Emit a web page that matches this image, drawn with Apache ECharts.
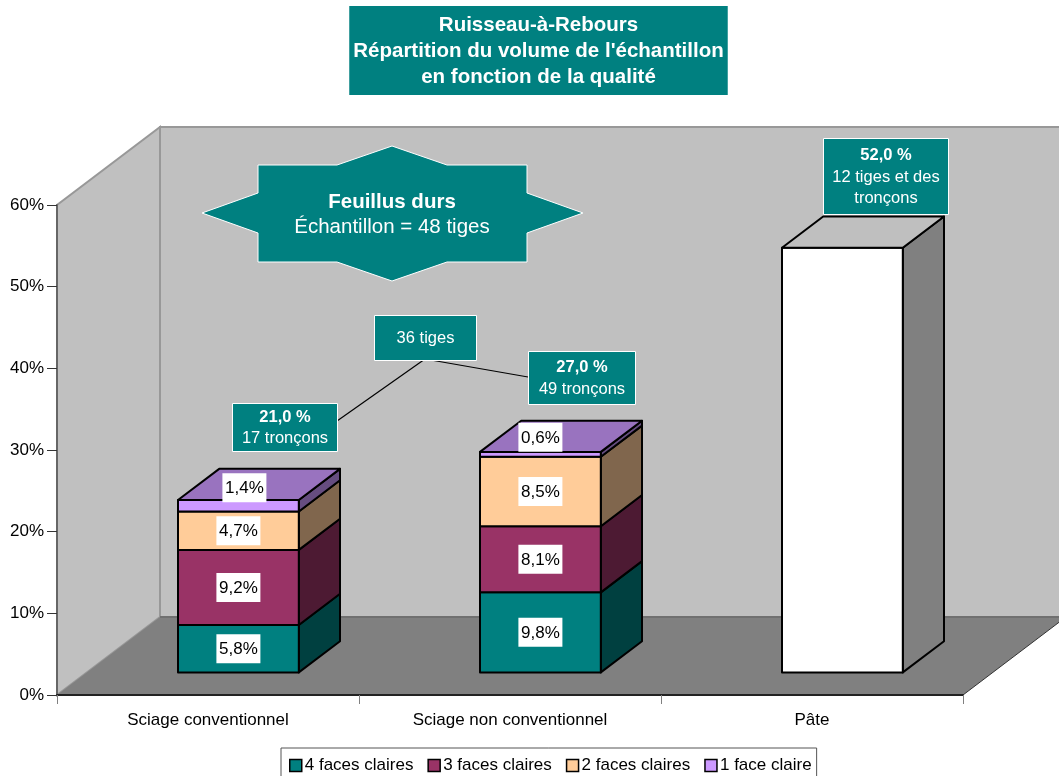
<!DOCTYPE html>
<html>
<head>
<meta charset="utf-8">
<style>html,body{margin:0;padding:0;background:#fff}#c{width:1059px;height:776px}</style>
<script src="https://cdn.jsdelivr.net/npm/echarts@6/dist/echarts.min.js"></script>
</head>
<body>
<div id="c"></div>
<script>
const categories = ['Sciage conventionnel', 'Sciage non conventionnel', 'Pâte'];
const yTicks = [0, 10, 20, 30, 40, 50, 60];
const fourFaces = [5.8, 9.8, null];
const threeFaces = [9.2, 8.1, null];
const twoFaces = [4.7, 8.5, null];
const oneFace = [1.4, 0.6, null];
const pulp = [null, null, 52.0];
const seriesNames = ['4 faces claires', '3 faces claires', '2 faces claires', '1 face claire', 'Pâte'];

const FONT = '"Liberation Sans", Arial, sans-serif';
const TEAL = '#008080';
const colors = ['#008080', '#993366', '#FFCC99', '#CC99FF', '#FFFFFF'];
const DX = 103, DY = 78;            // full depth of the 3D box
const labelNudge = { '3|0': [6, -18], '3|1': [0, -17] };

const stacks = [fourFaces, threeFaces, twoFaces, oneFace, pulp];
function baseOf(s, c) {
  let b = 0;
  for (let i = 0; i < s; i++) b += stacks[i][c] || 0;
  return b;
}
function shade(hex, k) {
  const n = parseInt(hex.slice(1), 16);
  const f = v => Math.round(v * k);
  return 'rgb(' + f(n >> 16 & 255) + ',' + f(n >> 8 & 255) + ',' + f(n & 255) + ')';
}
const fmt = v => v.toFixed(1).replace('.', ',') + '%';

function renderWalls(params, api) {
  const g = params.coordSys;
  const L = g.x, R = g.x + g.width, T = g.y, B = g.y + g.height;
  const wallLine = { stroke: '#989898', lineWidth: 2, lineJoin: 'miter' };
  return { type: 'group', children: [
    { type: 'polygon', shape: { points: [[L, B], [L + DX, B - DY], [L + DX, T - DY], [L, T]] },
      style: Object.assign({ fill: '#C0C0C0' }, wallLine) },
    { type: 'polygon', shape: { points: [[L + DX, B - DY], [R + DX, B - DY], [R + DX, T - DY], [L + DX, T - DY]] },
      style: Object.assign({ fill: '#C0C0C0' }, wallLine) },
    { type: 'polygon', shape: { points: [[L, B], [L + DX, B - DY], [R + DX, B - DY], [R, B]] },
      style: { fill: '#808080', stroke: 'none' } },
    { type: 'line', shape: { x1: L + DX, y1: B - DY, x2: R + DX, y2: B - DY }, style: { stroke: '#707070', lineWidth: 2 } },
    { type: 'line', shape: { x1: R, y1: B, x2: R + DX, y2: B - DY }, style: { stroke: '#333', lineWidth: 1 } }
  ]};
}

function renderSegment(s) {
  return function (params, api) {
    const c = api.value(0), v = api.value(1), base = api.value(2);
    const col = colors[s];
    const catW = api.size([1, 0])[0];
    const w = catW * 0.4;
    const p0 = api.coord([c, base]);
    const p1 = api.coord([c, base + v]);
    const x0 = p0[0] - w / 2 + DX * 0.3 - 0.5, x1 = x0 + w;
    const yb = p0[1] - DY * 0.29, yt = p1[1] - DY * 0.29;
    const dx = DX * 0.4, dy = DY * 0.4;
    const edge = { stroke: '#000', lineWidth: 2, lineJoin: 'round' };
    const kids = [
      { type: 'polygon', shape: { points: [[x1, yb], [x1 + dx, yb - dy], [x1 + dx, yt - dy], [x1, yt]] },
        style: Object.assign({ fill: shade(col, 0.5) }, edge) },
      { type: 'rect', shape: { x: x0, y: yt, width: w, height: yb - yt },
        style: Object.assign({ fill: col }, edge) }
    ];
    const isTop = stacks.slice(s + 1).every(a => a[c] == null);
    if (isTop) {
      kids.push({ type: 'polygon', shape: { points: [[x0, yt], [x0 + dx, yt - dy], [x1 + dx, yt - dy], [x1, yt]] },
        style: Object.assign({ fill: shade(col, 0.75) }, edge) });
    }
    if (s < 4) {
      const n = labelNudge[s + '|' + c] || [0, 0];
      const cx = (x0 + x1) / 2 + n[0], cy = (yb + yt) / 2 + n[1];
      kids.push({ type: 'rect', shape: { x: cx - 22, y: cy - 14.5, width: 44, height: 29 }, style: { fill: '#fff' } });
      kids.push({ type: 'text', style: { text: fmt(v), x: cx, y: cy + 1, align: 'center', verticalAlign: 'middle',
        fill: '#000', font: '17px ' + FONT } });
    }
    return { type: 'group', children: kids };
  };
}

const barSeries = stacks.map((arr, s) => ({
  name: seriesNames[s],
  type: 'custom',
  coordinateSystem: 'cartesian2d',
  z: 2,
  clip: false,
  itemStyle: { color: colors[s] },
  encode: { x: 0, y: 1 },
  renderItem: renderSegment(s),
  data: arr.map((v, c) => v == null ? null : [c, v, baseOf(s, c)]).filter(d => d)
}));

function box(x, y, w, h, rich, text) {
  return { type: 'group', z: 100, children: [
    { type: 'rect', z: 100, shape: { x, y, width: w, height: h }, style: { fill: TEAL, stroke: '#fff', lineWidth: 1 } },
    { type: 'text', z: 101, style: { x: x + w / 2, y: y + h / 2 + 0.7, align: 'center', verticalAlign: 'middle',
      text, rich, fill: '#fff' } }
  ]};
}
const richCall = {
  b: { font: 'bold 16.5px ' + FONT, fill: '#fff', lineHeight: 21.5, align: 'center' },
  n: { font: '16.5px ' + FONT, fill: '#fff', lineHeight: 21.5, align: 'center' }
};
const richStar = {
  b: { font: 'bold 20.5px ' + FONT, fill: '#fff', lineHeight: 25, align: 'center' },
  n: { font: '20.5px ' + FONT, fill: '#fff', lineHeight: 25, align: 'center' }
};
const line = (x1, y1, x2, y2) => ({ type: 'line', z: 99, shape: { x1, y1, x2, y2 }, style: { stroke: '#000', lineWidth: 1.2 } });

const chart = echarts.init(document.getElementById('c'), null, { renderer: 'canvas' });
chart.setOption({
  animation: false,
  backgroundColor: '#fff',
  title: {
    text: "Ruisseau-à-Rebours\nRépartition du volume de l'échantillon\nen fonction de la qualité",
    left: 534.5, top: 6,
    backgroundColor: TEAL,
    padding: [6, 4, 4, 4],
    textAlign: 'center',
    textStyle: { fontFamily: FONT, fontWeight: 'bold', fontSize: 20.5, lineHeight: 26.3, color: '#fff', align: 'center' }
  },
  grid: { left: 57, top: 205, width: 906, height: 490, containLabel: false },
  xAxis: {
    type: 'category', data: categories, z: 3,
    axisLine: { lineStyle: { color: '#222', width: 2 } },
    axisTick: { show: true, alignWithLabel: false, length: 9, lineStyle: { color: '#808080', width: 1 } },
    axisLabel: { color: '#000', fontFamily: FONT, fontSize: 17, margin: 17 },
    splitLine: { show: false }
  },
  yAxis: {
    type: 'value', min: yTicks[0], max: yTicks[yTicks.length - 1], interval: 10, z: 3,
    axisLine: { show: true, lineStyle: { color: '#666', width: 2 } },
    axisTick: { show: true, length: 10, lineStyle: { color: '#333', width: 1 } },
    axisLabel: { color: '#000', fontFamily: FONT, fontSize: 17, margin: 13, formatter: '{value}%' },
    splitLine: { show: false }
  },
  legend: {
    left: 281, top: 748,
    padding: [9, 5, 12, 8],
    borderColor: '#555', borderWidth: 1,
    backgroundColor: '#fff',
    itemWidth: 12, itemHeight: 12, itemGap: 14,
    selectedMode: false,
    icon: 'rect',
    textStyle: { color: '#000', fontFamily: FONT, fontSize: 17, padding: [0, 0, 0, -2] },
    data: seriesNames.slice(0, 4).map(n => ({ name: n, itemStyle: { borderColor: '#000', borderWidth: 1.5 } }))
  },
  graphic: { elements: [
    line(337, 421, 425, 359),
    line(425, 359, 528, 377),
    box(232.5, 403.5, 105, 48, richCall, '{b|21,0 %}\n{n|17 tronçons}'),
    box(528.5, 351.5, 107, 53, richCall, '{b|27,0 %}\n{n|49 tronçons}'),
    box(374.5, 315.5, 102, 45, richCall, '{n|36 tiges}'),
    box(823.5, 138.5, 125, 76, richCall, '{b|52,0 %}\n{n|12 tiges et des}\n{n|tronçons}'),
    { type: 'group', z: 100, children: [
      { type: 'polygon', z: 100, shape: { points: [[392,146],[447,165],[527,165],[527,193],[583,213],[527,233],[527,262],[447,262],[392,281],[337,262],[258,262],[258,233],[202,213],[258,193],[258,165],[337,165]] },
        style: { fill: TEAL, stroke: '#fff', lineWidth: 1 } },
      { type: 'text', z: 101, style: { x: 392, y: 215, align: 'center', verticalAlign: 'middle',
        text: '{b|Feuillus durs}\n{n|Échantillon = 48 tiges}', rich: richStar, fill: '#fff' } }
    ]}
  ]},
  series: [{
    type: 'custom', coordinateSystem: 'cartesian2d', z: 1, clip: false, silent: true,
    renderItem: renderWalls, data: [[0, 0]], encode: { x: 0, y: 1 }
  }].concat(barSeries)
});
</script>
</body>
</html>
